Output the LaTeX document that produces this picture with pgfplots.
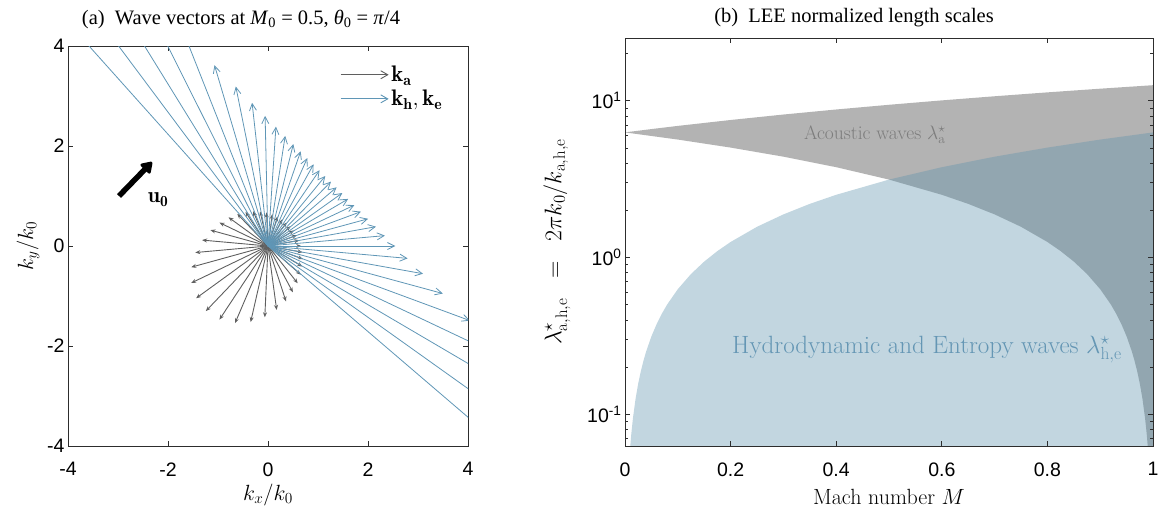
\RequirePackage{fix-cm}
\documentclass[border=0pt]{standalone}
\usepackage{fontspec}
\usepackage{pgfplots}
\usepackage{pgfplotstable}
\pgfplotsset{compat=1.18}
\usetikzlibrary{arrows.meta}
\newfontfamily\tickfont{Liberation Sans}
\newfontfamily\titlefont{Liberation Serif}
\definecolor{acgray}{RGB}{179,179,179}
\definecolor{hblue}{RGB}{94,147,173}
\definecolor{arrgray}{RGB}{95,95,95}
\definecolor{arrblue}{RGB}{95,150,182}
\definecolor{atext}{RGB}{125,125,125}
\definecolor{htext}{RGB}{100,150,180}
\definecolor{axcol}{RGB}{45,45,45}

\pgfplotstableread{
x y u v
0 0 0.6649 0
0 0 0.6276 0.1139
0 0 0.5790 0.2173
0 0 0.5203 0.3109
0 0 0.4522 0.3951
0 0 0.3749 0.4701
0 0 0.2884 0.5359
0 0 0.1924 0.5921
0 0 0.0864 0.6381
0 0 -0.0302 0.6723
0 0 -0.1582 0.6931
0 0 -0.2982 0.6977
0 0 -0.4505 0.6828
0 0 -0.6148 0.6436
0 0 -0.7899 0.5739
0 0 -0.9712 0.4677
0 0 -1.1518 0.3179
0 0 -1.3191 0.1187
0 0 -1.4547 -0.1309
0 0 -1.5352 -0.4237
0 0 -1.5356 -0.7395
0 0 -1.4385 -1.0451
0 0 -1.2431 -1.3012
0 0 -0.9715 -1.4726
0 0 -0.6600 -1.5442
0 0 -0.3473 -1.5217
0 0 -0.0640 -1.4250
0 0 0.1733 -1.2793
0 0 0.3598 -1.1073
0 0 0.4981 -0.9257
0 0 0.5944 -0.7454
0 0 0.6557 -0.5729
0 0 0.6885 -0.4113
0 0 0.6982 -0.2620
0 0 0.6893 -0.1251
}\grayarrows

\pgfplotstableread{
x y u v
0 0 2.5456 0
0 0 2.3381 0.2075
0 0 2.1593 0.3863
0 0 2.0014 0.5442
0 0 1.8587 0.6869
0 0 1.7272 0.8184
0 0 1.6037 0.9419
0 0 1.4860 1.0596
0 0 1.3716 1.1740
0 0 1.2587 1.2869
0 0 1.1457 1.3999
0 0 1.0305 1.5151
0 0 0.9116 1.6340
0 0 0.7863 1.7593
0 0 0.6524 1.8932
0 0 0.5063 2.0393
0 0 0.3438 2.2018
0 0 0.1587 2.3869
0 0 -0.0577 2.6033
0 0 -0.3183 2.8639
0 0 -0.6440 3.1896
0 0 -1.0700 3.6157
0 0 -1.6628 4.2084
0 0 -2.5605 5.1061
0 0 -4.1070 6.6526
0 0 -7.517 10.063
0 0 -21.71 24.26
0 0 17.677 -15.131
0 0 8.873 -6.327
0 0 6.1676 -3.6220
0 0 4.8378 -2.2922
0 0 4.0377 -1.4921
0 0 3.4961 -0.9505
0 0 3.1000 -0.5544
0 0 2.7934 -0.2478
}\bluearrows

\begin{document}
\begin{tikzpicture}
\useasboundingbox (0,0) rectangle (1163bp,-512bp);
\pgfplotsset{
  every axis/.append style={
    scale only axis,
    axis line style={axcol, line width=0.8bp},
    every tick/.style={axcol, line width=0.8bp},
    major tick length=5bp,
    minor tick length=3bp,
    tick align=inside,
    tick label style={font=\tickfont\fontsize{19.5bp}{21bp}\selectfont, text=black},
    label style={font=\fontsize{22bp}{26bp}\selectfont},
  }
}
% ---------------- panel (a)
\begin{axis}[
  at={(68bp,-446bp)}, anchor=south west,
  width=400bp, height=400bp,
  xmin=-4, xmax=4, ymin=-4, ymax=4,
  xtick={-4,-2,0,2,4}, ytick={-4,-2,0,2,4},
  xticklabels={-4,-2,0,2,4}, yticklabels={-4,-2,0,2,4},
  xticklabel style={yshift=-13bp},
  xlabel={$k_x/k_0$}, ylabel={$k_y/k_0$},
  xlabel style={at={(axis description cs:0.5,-0.122)}, anchor=center},
  ylabel style={at={(axis description cs:-0.1,0.5)}, anchor=center},
  legend style={at={(0.68,0.955)}, anchor=north west, draw=none, fill=none,
    font=\fontsize{22.5bp}{26bp}\selectfont, row sep=3bp, inner sep=0pt},
  legend cell align=left,
  clip=true,
]
\addplot[arrgray, line width=0.9bp,
  quiver={u=\thisrow{u}, v=\thisrow{v},
    every arrow/.append style={-{Stealth[length=5bp,width=4bp]}}},
  legend image code/.code={\draw[arrgray, line width=0.9bp, -{Straight Barb[length=7bp,width=8bp]}] (0bp,0bp) -- (48bp,0bp);}
] table[x=x, y=y] {\grayarrows};
\addlegendentry{$\mathbf{k_a}$}
\addplot[arrblue, line width=0.8bp,
  quiver={u=\thisrow{u}, v=\thisrow{v},
    every arrow/.append style={-{Straight Barb[length=7bp,width=7bp]}}},
  legend image code/.code={\draw[arrblue, line width=0.9bp, -{Straight Barb[length=7bp,width=8bp]}] (0bp,0bp) -- (48bp,0bp);}
] table[x=x, y=y] {\bluearrows};
\addlegendentry{$\mathbf{k_h},\mathbf{k_e}$}
\addplot[black, line width=5.5bp, -{Triangle[length=12bp,width=15bp,round]}, forget plot]
  coordinates {(-2.98,1.0) (-2.32,1.68)};
\node[font=\fontsize{22bp}{26bp}\selectfont] at (axis cs:-2.2,0.93) {$\mathbf{u_0}$};
\end{axis}
\node[anchor=base, font=\titlefont\fontsize{20.5bp}{24bp}\selectfont] at (241bp,-24bp)
  {(a)\hspace{0.5em}Wave vectors at \textit{M}\textsubscript{0} = 0.5, \textit{θ}\textsubscript{0} = \textit{π}/4};
% ---------------- panel (b)
\begin{axis}[
  at={(625bp,-446bp)}, anchor=south west,
  width=528bp, height=408bp,
  xmin=0, xmax=1, ymode=log, ymin=0.0628, ymax=25.13,
  xtick={0,0.2,0.4,0.6,0.8,1}, xticklabels={0,0.2,0.4,0.6,0.8,1},
  xticklabel style={yshift=-13bp},
  ytick={0.1,1,10},
  yticklabels={10\textsuperscript{-1},10\textsuperscript{0},10\textsuperscript{1}},
  minor ytick={0.07,0.08,0.09,0.2,0.3,0.4,0.5,0.6,0.7,0.8,0.9,2,3,4,5,6,7,8,9,20},
  xlabel={Mach number $M$},
  ylabel={$\lambda^\star_{\mathrm{a,h,e}}\;\;=\;\;2\pi k_0/k_{\mathrm{a,h,e}}$},
  ylabel style={at={(axis description cs:-0.129,0.5)}, anchor=center, font=\fontsize{24bp}{28bp}\selectfont},
  xlabel style={at={(axis description cs:0.5,-0.125)}, anchor=center},
  axis on top,
]
\addplot[fill=acgray, draw=none] coordinates {
 (0,6.2832) (0.05,6.5973) (0.1,6.9115) (0.2,7.5398) (0.3,8.1681) (0.4,8.7965)
 (0.5,9.4248) (0.6,10.0531) (0.7,10.6814) (0.8,11.3097) (0.9,11.9381) (1,12.5664)
 (1,0.05) (0.992,0.0503) (0.99,0.0628) (0.988,0.0754) (0.985,0.0942) (0.98,0.1257)
 (0.975,0.1571) (0.97,0.1885) (0.965,0.2199) (0.96,0.2513) (0.95,0.3142)
 (0.94,0.3770) (0.93,0.4398) (0.92,0.5027) (0.9,0.6283) (0.875,0.7854)
 (0.85,0.9425) (0.825,1.0996) (0.8,1.2566) (0.75,1.5708)
 (0.7,1.8850) (0.65,2.1991) (0.6,2.5133) (0.5,3.1416) (0.4,3.7699) (0.3,4.3982) (0.2,5.0265)
 (0.1,5.6549) (0,6.2832)
} -- cycle;
\addplot[fill=hblue, fill opacity=0.38, draw=none] coordinates {
 (0.008,0.0503) (0.01,0.0628) (0.012,0.0754) (0.015,0.0942) (0.02,0.1257)
 (0.025,0.1571) (0.03,0.1885) (0.035,0.2199) (0.04,0.2513) (0.05,0.3142)
 (0.06,0.3770) (0.07,0.4398) (0.08,0.5027) (0.1,0.6283) (0.125,0.7854)
 (0.15,0.9425) (0.175,1.0996) (0.2,1.2566) (0.25,1.5708) (0.3,1.8850)
 (0.35,2.1991) (0.4,2.5133) (0.5,3.1416) (0.6,3.7699)
 (0.7,4.3982) (0.8,5.0265) (0.9,5.6549) (1,6.2832) (1,0.05)
} -- cycle;
\node[text=atext, font=\fontsize{19.5bp}{22bp}\selectfont] at (axis cs:0.473,6.07)
  {Acoustic waves $\lambda^\star_{\mathrm{a}}$};
\node[text=htext, font=\fontsize{25bp}{28bp}\selectfont] at (axis cs:0.572,0.259)
  {Hydrodynamic and Entropy waves $\lambda^\star_{\mathrm{h,e}}$};
\end{axis}
\node[anchor=base, font=\titlefont\fontsize{20.5bp}{24bp}\selectfont] at (854bp,-22bp)
  {(b)\hspace{0.5em}LEE normalized length scales};
\end{tikzpicture}
\end{document}
